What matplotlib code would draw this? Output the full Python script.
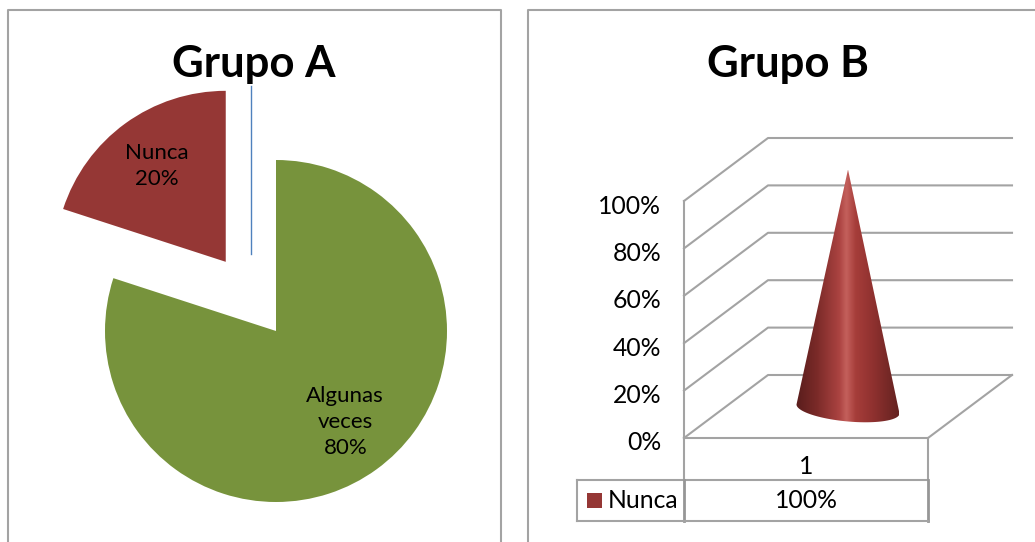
import numpy as np
import matplotlib
matplotlib.use('Agg')
import matplotlib.pyplot as plt
from matplotlib.colors import LinearSegmentedColormap
from matplotlib.lines import Line2D
from matplotlib.patches import Polygon, Rectangle
from matplotlib.transforms import ScaledTranslation

W, H = 1035, 542

# data
labels_a = ['Algunas\nveces', 'Nunca']
values_a = [80, 20]
colors_a = ['#77933c', '#953735']
labels_b = ['Nunca']
values_b = [100]
cats_b = ['1']
ticks_b = [0, 20, 40, 60, 80, 100]

plt.rcParams['font.family'] = ['Lato', 'DejaVu Sans']
fig = plt.figure(figsize=(W / 100, H / 100), dpi=100)

GRAY = '#a3a3a3'


# axes from pixel box
def px_axes(left, top, right, bottom):
    return fig.add_axes([left / W, 1 - bottom / H, (right - left) / W, (bottom - top) / H])


def fig_line(xs, ys, **kw):
    fig.add_artist(Line2D([x / W for x in xs], [1 - y / H for y in ys], transform=fig.transFigure, **kw))


# panel borders
fig_line([8, 8, 501, 501], [545, 10, 10, 545], color=GRAY, lw=1.5)
fig_line([528, 528, 1040], [545, 10, 10], color=GRAY, lw=1.5)

# stray line behind the title
fig_line([251, 251], [86, 254], color='#4f81bd', lw=1)

# pie
ax1 = px_axes(105, 160, 447, 502)
ax1.pie(values_a, colors=colors_a, startangle=90, counterclock=False,
        explode=[0, 0.5], radius=1, wedgeprops={'clip_on': False, 'linewidth': 0})
ax1.set_xlim(-1, 1)
ax1.set_ylim(-1, 1)
ax1.text(0.405, -0.53, '%s\n%d%%' % (labels_a[0], values_a[0]), ha='center', va='center',
         fontsize=16, linespacing=1.38)
ax1.text(-0.696, 0.965, '%s\n%d%%' % (labels_a[1], values_a[1]), ha='center', va='center',
         fontsize=16, linespacing=1.38, clip_on=False)
fig.text(254 / W, 1 - 64 / H, 'Grupo A', ha='center', va='center', fontsize=31.5, fontweight='bold')
fig.text(788 / W, 1 - 64 / H, 'Grupo B', ha='center', va='center', fontsize=31.5, fontweight='bold')

# 3d looking cone chart, front plane of the axes is the 0-100% wall edge
ax2 = px_axes(684, 201, 928, 438)
ax2.set_xlim(0, 1)
ax2.set_ylim(0, 100)
ax2.patch.set_alpha(0)
for s in ax2.spines.values():
    s.set_visible(False)

depth_x = 84 / 244
depth_y = 63 / 237 * 100

for v in ticks_b:
    ax2.plot([0, depth_x, 1 + depth_x], [v, v + depth_y, v + depth_y], color=GRAY, lw=1.5, clip_on=False)
ax2.plot([0, 0], [0, ticks_b[-1]], color=GRAY, lw=1.5, clip_on=False)
ax2.plot([0, 1, 1 + depth_x], [0, 0, depth_y], color=GRAY, lw=1.5, clip_on=False)

ax2.set_yticks(ticks_b)
ax2.set_yticklabels(['%d%%' % v for v in ticks_b], fontsize=17.8)
ax2.tick_params(axis='y', length=0, pad=16.5)
ax2.set_xticks([])
# labels sit a little below their ticks in the original
shift = ScaledTranslation(0, -3 / 100, fig.dpi_scale_trans)
for lab in ax2.get_yticklabels():
    lab.set_transform(lab.get_transform() + shift)


# pixel sizes to data units of ax2
def ux(p):
    return p / 244


def uy(p):
    return p / 237 * 100


# cone
cx = 0.5 + depth_x / 2
cy = depth_y / 2
t = np.linspace(0, np.pi, 60)
base_x = cx - ux(51.5) * np.cos(t)
base_y = cy - uy(2.5) + uy(4.5) * np.cos(t) - uy(12.5) * np.sin(t)
outline = np.column_stack([np.r_[base_x, cx], np.r_[base_y, cy + values_b[0]]])

cone_cmap = LinearSegmentedColormap.from_list('cone', [
    (0.0, '#591d1c'), (0.2, '#7a2a28'), (0.42, '#ab4341'), (0.49, '#c4605c'),
    (0.58, '#a63d3a'), (0.75, '#8f312f'), (1.0, '#642220')])
grad = np.linspace(0, 1, 256).reshape(1, -1)
im = ax2.imshow(grad, cmap=cone_cmap, aspect='auto', interpolation='bilinear', zorder=3,
                extent=[cx - ux(51.5), cx + ux(51.5), cy - uy(20), cy + values_b[0]])
poly = Polygon(outline, closed=True, transform=ax2.transData, fc='none', ec='none', clip_on=False)
ax2.add_patch(poly)
im.set_clip_path(poly)
im.set_clip_box(fig.bbox)
ax2.set_xlim(0, 1)
ax2.set_ylim(0, 100)

# data table under the chart
row1 = -uy(42)
row2 = -uy(83)
leg_left = -ux(107)
tbl = dict(color=GRAY, lw=1.5, clip_on=False)
ax2.plot([0, 0], [0, row1], **tbl)
ax2.plot([1, 1], [0, row1], **tbl)
ax2.plot([leg_left, 1], [row1, row1], **tbl)
tbl2 = dict(color='#969696', lw=2, clip_on=False)
ax2.plot([0, 0], [row1, row2], **tbl2)
ax2.plot([1, 1], [row1, row2], **tbl2)
ax2.plot([leg_left, 1], [row2, row2], **tbl)
ax2.plot([leg_left, leg_left], [row1, row2], **tbl)
ax2.text(0.5, -uy(28), cats_b[0], ha='center', va='center', fontsize=17.8)
ax2.text(0.5, -uy(62.5), '%d%%' % values_b[0], ha='center', va='center', fontsize=17.8)
ax2.add_patch(Rectangle((-ux(97), row1 - uy(28)), ux(15), uy(15), fc=colors_a[1], ec='none', clip_on=False))
ax2.text(-ux(76), -uy(62.5), labels_b[0], ha='left', va='center', fontsize=17.8)

fig.savefig('out.png', dpi=100)
